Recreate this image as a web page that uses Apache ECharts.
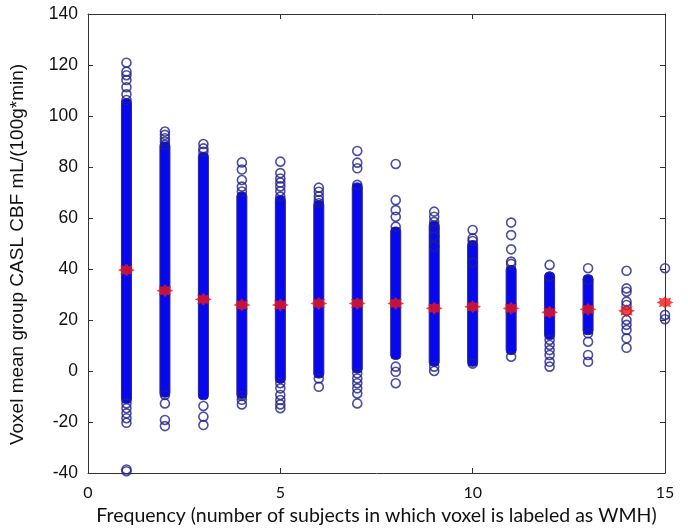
<!DOCTYPE html>
<html>
<head>
<meta charset="utf-8">
<script src="https://cdn.jsdelivr.net/npm/echarts@6/dist/echarts.min.js"></script>
<style>
html,body{margin:0;padding:0;background:#fff;}
#chart{width:688px;height:532px;}
</style>
</head>
<body>
<div id="chart"></div>
<script>
// Frequency categories (x)
const freq = [1, 2, 3, 4, 5, 6, 7, 8, 9, 10, 11, 12, 13, 14, 15];
// Dense core of each column (solid blue run of overlapping markers)
const coreLow  = [-11, -8.5, -9.5, -9, -3, -1, 1, 6.3, 3.6, 3.6, 8.2, 14.1, 16, null, null];
const coreHigh = [105, 88, 84, 68.4, 67, 65, 72, 54.7, 57, 49.4, 39.6, 37, 36, null, null];
// Individual visible circles outside / at the edge of the dense core
const outliers = [
  [120.9, 117.4, 116, 114.1, 111.3, 108.5, 106.3, -12.7, -14.6, -16.6, -18.5, -20.3, -38.6, -39.3],
  [93.9, 92.6, 91.3, 90, 88.7, -9.4, -12.7, -19.2, -21.6],
  [89, 87.3, 86, -13.7, -17.9, -21.2],
  [81.8, 79, 74.9, 72.3, 70.4, -9.8, -11.3, -13.1],
  [82.1, 77.6, 75.5, 73.9, 72.4, 70.5, 68.4, -4.8, -6.8, -9.4, -11.4, -13.1, -14.6],
  [71.9, 70.3, 68.5, 67, 65.8, -2.9, -6.2],
  [86.3, 81.7, 79.5, 73, -0.9, -2.9, -4.8, -6.8, -8.8, -12.7],
  [81.2, 67, 63.1, 60.5, 56.6, 1.7, -0.3, -4.8],
  [62.5, 60.5, 58.5, 55.9, 52.7, 48.8, 1.7, 0],
  [55.3, 52, 51, 42.6, 2.9],
  [58.2, 53.3, 47.7, 42.9, 42, 5.6],
  [41.6, 37, 12.2, 10.2, 8.2, 6.3, 3.6, 1.7],
  [40.3, 35.7, 14.8, 11.5, 6.3, 3.6],
  [39.3, 32.4, 31.1, 27.2, 25.9, 23.6, 20, 18.1, 16.1, 12.8, 9.1],
  [40.3, 22, 20.3]
];
// Mean CBF per frequency (red stars)
const meanCBF = [39.6, 31.5, 28.1, 25.9, 25.9, 26.5, 26.5, 26.5, 24.6, 25.2, 24.6, 23, 24.2, 23.6, 26.9];
// Axis ticks
const xTicks = [0, 5, 10, 15];
const yTicks = [-40, -20, 0, 20, 40, 60, 80, 100, 120, 140];

const coreData = [];
freq.forEach((f, i) => { if (coreLow[i] !== null) coreData.push([f, coreLow[i], coreHigh[i]]); });
const outData = [];
outliers.forEach((arr, i) => arr.forEach(v => outData.push([freq[i], v])));
const meanData = freq.map((f, i) => [f, meanCBF[i]]);

// asterisk-like star symbol
function starPath() {
  let p = '';
  for (let k = 0; k < 16; k++) {
    const a = k * Math.PI / 8;
    const r = (k % 2 === 0) ? 10 : 6.5;
    const x = 10 + r * Math.cos(a), y = 10 + r * Math.sin(a);
    p += (k === 0 ? 'M' : 'L') + x.toFixed(2) + ' ' + y.toFixed(2) + ' ';
  }
  return 'path://' + p + 'Z';
}

const axisLine = {show: true, onZero: false, lineStyle: {color: '#333', width: 1}};
const tick = {show: true, inside: true, length: 5, lineStyle: {color: '#333'}};
const chart = echarts.init(document.getElementById('chart'), null, {renderer: 'canvas'});
chart.setOption({
  animation: false,
  backgroundColor: '#fff',
  grid: {left: 88, right: 23, top: 14, bottom: 59},
  xAxis: [{
    type: 'value', min: xTicks[0], max: xTicks[xTicks.length - 1], interval: 5,
    axisLine: axisLine, axisTick: tick,
    splitLine: {show: false},
    axisLabel: {color: '#111', fontFamily: 'Lato', fontSize: 16, margin: 12},
    name: 'Frequency (number of subjects in which voxel is labeled as WMH)',
    nameLocation: 'middle', nameGap: 33,
    nameTextStyle: {color: '#111', fontFamily: 'Lato', fontSize: 19.5}
  }, {
    type: 'value', position: 'top', min: 0, max: 15, interval: 5,
    axisLine: axisLine, axisTick: tick,
    axisLabel: {show: false}, splitLine: {show: false}
  }],
  yAxis: [{
    type: 'value', min: yTicks[0], max: yTicks[yTicks.length - 1], interval: 20,
    axisLine: axisLine, axisTick: tick,
    splitLine: {show: false},
    axisLabel: {color: '#111', fontFamily: 'Liberation Sans', fontSize: 17.5, margin: 10},
    name: 'Voxel mean group CASL CBF mL/(100g*min)',
    nameLocation: 'middle', nameGap: 61, nameRotate: 90,
    nameTextStyle: {color: '#111', fontFamily: 'Liberation Sans', fontSize: 19, padding: [0, 22, 0, 0]}
  }, {
    type: 'value', position: 'right', min: -40, max: 140, interval: 20,
    axisLine: axisLine, axisTick: tick,
    axisLabel: {show: false}, splitLine: {show: false}
  }],
  series: [{
    type: 'custom',
    data: coreData,
    clip: false,
    renderItem: function (params, api) {
      const top = api.coord([api.value(0), api.value(2)]);
      const bot = api.coord([api.value(0), api.value(1)]);
      return {
        type: 'rect',
        shape: {x: top[0] - 5, y: top[1] - 4.5, width: 10, height: bot[1] - top[1] + 9, r: 4},
        style: {fill: '#0808ee', stroke: '#24248a', lineWidth: 1}
      };
    }
  }, {
    type: 'scatter',
    data: outData,
    clip: false,
    symbol: 'circle',
    symbolSize: 9,
    itemStyle: {color: 'rgba(0,0,0,0)', borderColor: '#20208a', borderWidth: 1.6}
  }, {
    type: 'scatter',
    data: meanData,
    clip: false,
    symbol: starPath(),
    symbolSize: [17, 13],
    itemStyle: {color: '#f01616'},
    z: 5
  }]
});
</script>
</body>
</html>
